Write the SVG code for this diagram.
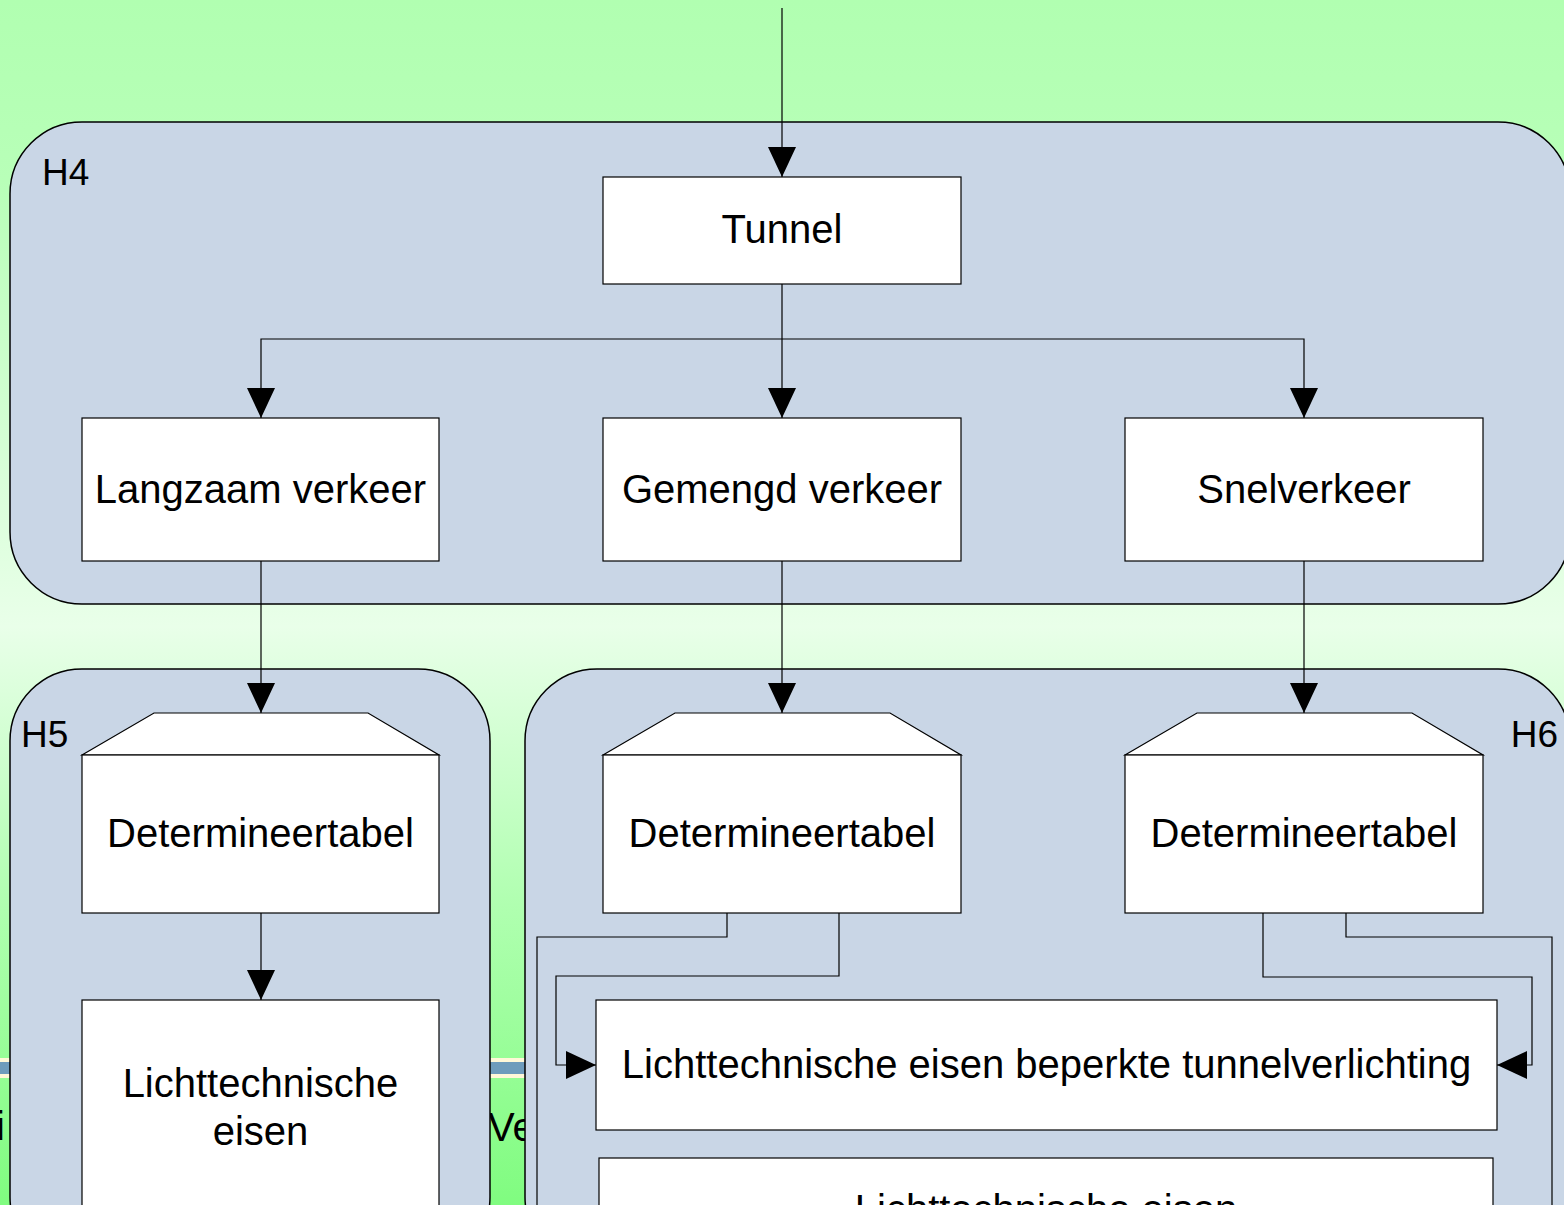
<svg xmlns="http://www.w3.org/2000/svg" width="1564" height="1205" viewBox="0 0 1564 1205">
<style>
.cont{fill:#c9d6e6;stroke:#000;stroke-width:1.5}
.box{fill:#fff;stroke:#000;stroke-width:1.2}
.t{font-family:"Liberation Sans",Arial,sans-serif;font-size:40px;fill:#000}
.c{text-anchor:middle}
.h{font-family:"Liberation Sans",Arial,sans-serif;font-size:37px;fill:#000}
.ln{fill:none;stroke:#000;stroke-width:1.2}
</style>
<defs>
<linearGradient id="bg" x1="0" y1="0" x2="0" y2="1">
<stop offset="0" stop-color="#b1ffb1"/>
<stop offset="0.15" stop-color="#b8ffb8"/>
<stop offset="0.52" stop-color="#e9ffe9"/>
<stop offset="0.75" stop-color="#b0ffb0"/>
<stop offset="1" stop-color="#80fc80"/>
</linearGradient>
<marker id="ah" viewBox="0 0 30 28" refX="30" refY="14" markerWidth="30" markerHeight="28" markerUnits="userSpaceOnUse" orient="auto">
<path d="M0,0 L30,14 L0,28 Z" fill="#000"/>
</marker>
</defs>
<rect x="0" y="0" width="1564" height="1205" fill="url(#bg)"/>
<g id="slide-decor">
<rect x="0" y="1058" width="1564" height="20" fill="#fff8d8"/>
<rect x="0" y="1062" width="1564" height="12" fill="#6e9cbc"/>
<text class="t" x="-4" y="1140">i</text>
<text class="t" x="488" y="1141">Ve</text>
</g>
<g id="H4">
<rect class="cont" x="10" y="122" width="1560" height="482" rx="72" ry="72"/>
<text class="h" x="42" y="185">H4</text>
</g>
<g id="H5">
<rect class="cont" x="10" y="669" width="480" height="600" rx="72" ry="72"/>
<text class="h" x="21" y="747">H5</text>
</g>
<g id="H6">
<rect class="cont" x="525" y="669" width="1045" height="600" rx="72" ry="72"/>
<text class="h" x="1558" y="747" text-anchor="end">H6</text>
</g>
<g id="connectors">
<path class="ln" d="M782,8 V177" marker-end="url(#ah)"/>
<path class="ln" d="M782,284 V418" marker-end="url(#ah)"/>
<path class="ln" d="M782,339 H261 V418" marker-end="url(#ah)"/>
<path class="ln" d="M782,339 H1304 V418" marker-end="url(#ah)"/>
<path class="ln" d="M261,561 V713" marker-end="url(#ah)"/>
<path class="ln" d="M782,561 V713" marker-end="url(#ah)"/>
<path class="ln" d="M1304,561 V713" marker-end="url(#ah)"/>
<path class="ln" d="M261,913 V1000" marker-end="url(#ah)"/>
<path class="ln" d="M727,913 V937 H537 V1230"/>
<path class="ln" d="M839,913 V976 H556 V1065 H596" marker-end="url(#ah)"/>
<path class="ln" d="M1263,913 V977 H1532 V1065 H1497" marker-end="url(#ah)"/>
<path class="ln" d="M1346,913 V937 H1552 V1230"/>
</g>
<g id="tunnel">
<rect class="box" x="603" y="177" width="358" height="107"/>
<text class="t c" x="782" y="243">Tunnel</text>
</g>
<g id="langzaam">
<rect class="box" x="82" y="418" width="357" height="143"/>
<text class="t c" x="260.5" y="503">Langzaam verkeer</text>
</g>
<g id="gemengd">
<rect class="box" x="603" y="418" width="358" height="143"/>
<text class="t c" x="782" y="503">Gemengd verkeer</text>
</g>
<g id="snel">
<rect class="box" x="1125" y="418" width="358" height="143"/>
<text class="t c" x="1304" y="503">Snelverkeer</text>
</g>
<g id="det1">
<path class="box" d="M82,755 L154,713 H368 L439,755 Z"/>
<rect class="box" x="82" y="755" width="357" height="158"/>
<text class="t c" x="260.5" y="847">Determineertabel</text>
</g>
<g id="det2">
<path class="box" d="M603,755 L675,713 H890 L961,755 Z"/>
<rect class="box" x="603" y="755" width="358" height="158"/>
<text class="t c" x="782" y="847">Determineertabel</text>
</g>
<g id="det3">
<path class="box" d="M1125,755 L1197,713 H1412 L1483,755 Z"/>
<rect class="box" x="1125" y="755" width="358" height="158"/>
<text class="t c" x="1304" y="847">Determineertabel</text>
</g>
<g id="licht1">
<rect class="box" x="82" y="1000" width="357" height="260"/>
<text class="t c" x="260.5" y="1097">Lichttechnische</text>
<text class="t c" x="260.5" y="1145">eisen</text>
</g>
<g id="licht2">
<rect class="box" x="596" y="1000" width="901" height="130"/>
<text class="t c" x="1046.5" y="1078">Lichttechnische eisen beperkte tunnelverlichting</text>
</g>
<g id="licht3">
<rect class="box" x="599" y="1158" width="894" height="130"/>
<text class="t c" x="1046" y="1223">Lichttechnische eisen</text>
</g>
</svg>
